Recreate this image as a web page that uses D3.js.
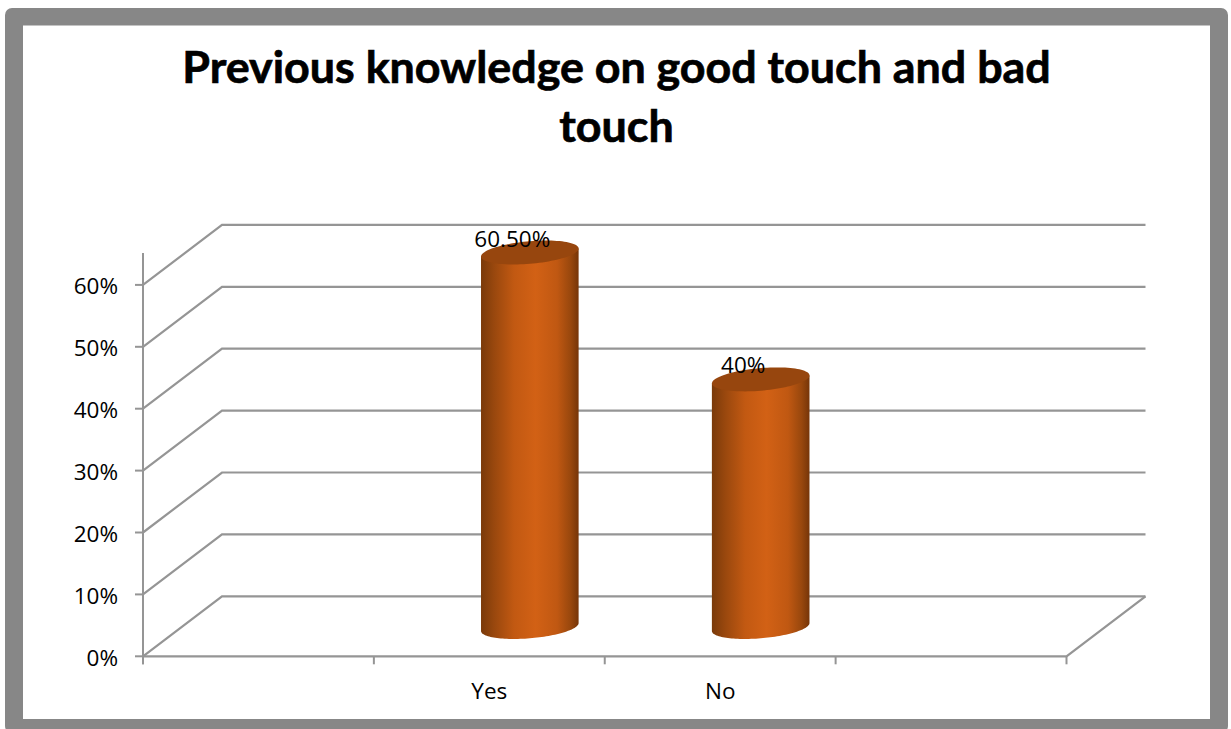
<!DOCTYPE html>
<html>
<head>
<meta charset="utf-8">
<style>
  html, body { margin: 0; padding: 0; background: #fff; }
  svg { display: block; }
</style>
<script src="https://cdnjs.cloudflare.com/ajax/libs/d3/7.8.5/d3.min.js"></script>
</head>
<body>
<svg id="chart" width="1231" height="729"></svg>
<script>
const titleLines = ["Previous knowledge on good touch and bad", "touch"];
const categories = ["", "Yes", "No", ""];
const values = [null, 60.5, 40, null];
const valueLabels = ["", "60.50%", "40%", ""];
const yTicks = [0, 10, 20, 30, 40, 50, 60];

const svg = d3.select("#chart");
const gridColor = "#959595";
const depth = { x: 79, y: -60 };

const x = d3.scaleBand().domain(d3.range(categories.length)).range([143, 1066.5]);
const y = d3.scaleLinear().domain([0, 60]).range([656.3, 284.9]);

// Cylinder shading runs left to right across each column.
const defs = svg.append("defs");
const shade = defs.append("linearGradient").attr("id", "cylinder");
[[0, "#7a3a0a"], [0.14, "#9a480e"], [0.34, "#c25912"], [0.56, "#d26115"],
 [0.78, "#c05812"], [0.92, "#98470d"], [1, "#763508"]].forEach(([o, c]) =>
  shade.append("stop").attr("offset", o).attr("stop-color", c));

// Outer frame of the chart area.
svg.append("rect").attr("x", 5).attr("y", 8).attr("width", 1223).attr("height", 725)
  .attr("rx", 7).attr("fill", "#878787");
svg.append("rect").attr("x", 23).attr("y", 25.5).attr("width", 1187).attr("height", 693.5)
  .attr("fill", "#fff");

// Title.
svg.append("g").selectAll("text").data(titleLines).join("text")
  .attr("x", 616.5).attr("y", (d, i) => 83 + i * 59)
  .attr("text-anchor", "middle")
  .attr("font-family", "Lato, sans-serif").attr("font-weight", 700).attr("font-size", 44.8)
  .attr("fill", "#000").attr("stroke", "#000").attr("stroke-width", 0.7).text(d => d);

// Back wall gridlines and their diagonals across the side wall.
const grid = svg.append("g").attr("fill", "none").attr("stroke", gridColor).attr("stroke-width", 2.2);
grid.selectAll("path").data(yTicks).join("path")
  .attr("d", t => d3.line()([
    [x.range()[0], y(t)],
    [x.range()[0] + depth.x, y(t) + depth.y],
    [x.range()[1] + depth.x, y(t) + depth.y]
  ]));

// Floor front edge and the closing diagonal on the right.
grid.append("path").attr("d", d3.line()([
  [x.range()[0], y(0)], [x.range()[1], y(0)], [x.range()[1] + depth.x, y(0) + depth.y]
]));

// Value axis line and tick marks.
const axes = svg.append("g").attr("stroke", gridColor).attr("stroke-width", 2);
axes.append("line").attr("x1", 143).attr("x2", 143).attr("y1", 253).attr("y2", y(0) + 8);
axes.selectAll(".ytick").data(yTicks).join("line").attr("class", "ytick")
  .attr("x1", 135).attr("x2", 143).attr("y1", y).attr("y2", y);
axes.selectAll(".xtick").data(d3.range(categories.length + 1)).join("line").attr("class", "xtick")
  .attr("x1", i => x.range()[0] + i * x.bandwidth())
  .attr("x2", i => x.range()[0] + i * x.bandwidth())
  .attr("y1", y(0)).attr("y2", y(0) + 8);

// Axis labels.
const labelFont = "'Open Sans', sans-serif";
const labelSize = 22.5;
svg.append("g").selectAll("text").data(yTicks).join("text")
  .attr("x", 118).attr("y", t => y(t) + 9.5).attr("text-anchor", "end")
  .attr("font-family", labelFont).attr("font-size", labelSize).attr("fill", "#000")
  .text(t => t + "%");
svg.append("g").selectAll("text").data(categories).join("text")
  .attr("x", (d, i) => x(i) + x.bandwidth() / 2).attr("y", 699).attr("text-anchor", "middle")
  .attr("font-family", labelFont).attr("font-size", labelSize).attr("fill", "#000")
  .text(d => d);

// Cylinders sit midway through the chart depth.
const colOffsetX = depth.x / 2 + 1;
const colOffsetY = -29.3;
const radiusX = 48.8, radiusY = 11.3, tilt = 4;

function ringPoint(cx, cy, t) {
  return [cx + radiusX * Math.cos(t), cy + radiusY * Math.sin(t) - tilt * Math.cos(t)];
}
const line = d3.line();
function sideOutline(cx, topY, baseY) {
  const lower = d3.range(0, 65).map(k => ringPoint(cx, baseY, k / 64 * Math.PI));
  return line([ringPoint(cx, topY, 0), ...lower, ringPoint(cx, topY, Math.PI)]) + "Z";
}
function capOutline(cx, cy) {
  return line(d3.range(0, 96).map(k => ringPoint(cx, cy, k / 96 * 2 * Math.PI))) + "Z";
}

const columns = d3.range(categories.length).filter(i => values[i] !== null);
const col = svg.append("g").selectAll("g").data(columns).join("g");
col.append("path")
  .attr("d", i => sideOutline(x(i) + x.bandwidth() / 2 + colOffsetX, y(values[i]) + colOffsetY, y(0) + colOffsetY))
  .attr("fill", "url(#cylinder)");
col.append("path")
  .attr("d", i => capOutline(x(i) + x.bandwidth() / 2 + colOffsetX, y(values[i]) + colOffsetY))
  .attr("fill", "#97460e");

// Data labels overlap the top of each cylinder.
col.append("text")
  .attr("x", i => x(i) + x.bandwidth() / 2 + 23)
  .attr("y", i => y(values[i]) + colOffsetY - 6)
  .attr("text-anchor", "middle")
  .attr("font-family", labelFont).attr("font-size", labelSize).attr("fill", "#000")
  .text(i => valueLabels[i]);
</script>
</body>
</html>
